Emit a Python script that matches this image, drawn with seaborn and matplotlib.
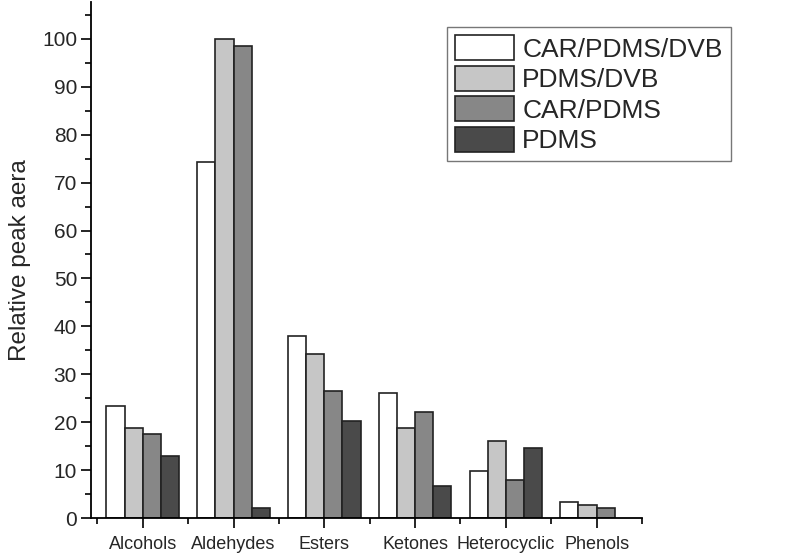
import pandas as pd
import seaborn as sns
import matplotlib.pyplot as plt
from matplotlib.ticker import MultipleLocator, FixedLocator

# values
categories = ['Alcohols', 'Aldehydes', 'Esters', 'Ketones', 'Heterocyclic', 'Phenols']
fibres = ['CAR/PDMS/DVB', 'PDMS/DVB', 'CAR/PDMS', 'PDMS']
car_pdms_dvb = [23.3, 74.4, 38.0, 26.1, 9.8, 3.3]
pdms_dvb = [18.8, 100.0, 34.2, 18.7, 16.0, 2.8]
car_pdms = [17.5, 98.5, 26.5, 22.2, 8.0, 2.1]
pdms = [13.0, 2.0, 20.2, 6.7, 14.6, None]  # no PDMS bar for phenols

colors = ['#ffffff', '#c6c6c6', '#878787', '#4a4a4a']

rows = []
for fibre, vals in zip(fibres, [car_pdms_dvb, pdms_dvb, car_pdms, pdms]):
    for cat, v in zip(categories, vals):
        if v is not None:
            rows.append({'class': cat, 'fibre': fibre, 'area': v})
df = pd.DataFrame(rows)

sns.set_style('ticks')
plt.rcParams['font.family'] = ['Liberation Sans', 'DejaVu Sans']

fig = plt.figure(figsize=(7.88, 5.58), dpi=100)
ax = fig.add_axes([91 / 788, 40 / 558, 551 / 788, 516 / 558])

sns.barplot(data=df, x='class', y='area', hue='fibre', order=categories,
            hue_order=fibres, palette=colors, edgecolor='#222222',
            linewidth=1.2, width=0.8, errorbar=None, ax=ax)

ax.set_xlim(-0.57, 5.5)
ax.set_ylim(0, 107.7)

# axis look: only left and bottom spines, ticks pointing out
for s in ['top', 'right']:
    ax.spines[s].set_visible(False)
for s in ['left', 'bottom']:
    ax.spines[s].set_linewidth(1.3)
    ax.spines[s].set_color('black')

ax.yaxis.set_major_locator(MultipleLocator(10))
ax.yaxis.set_minor_locator(MultipleLocator(5))
ax.xaxis.set_minor_locator(FixedLocator([i + 0.5 for i in range(-1, 6)]))
ax.tick_params(axis='both', which='major', direction='out', length=7, width=1.2, color='black')
ax.tick_params(axis='both', which='minor', direction='out', length=4, width=1.2, color='black')
ax.tick_params(axis='x', labelsize=13, pad=6)
ax.tick_params(axis='y', labelsize=15, pad=3)

ax.set_xlabel('')
ax.set_ylabel('Relative peak aera', fontsize=17.5, labelpad=8)

leg = ax.legend(loc='upper left', bbox_to_anchor=(447 / 788, 1 - 27 / 558),
                bbox_transform=fig.transFigure, fontsize=19, frameon=True,
                fancybox=False, handlelength=2.25, handleheight=1.1,
                handletextpad=0.3, labelspacing=0.15, borderpad=0.3,
                borderaxespad=0)
leg.get_frame().set_edgecolor('#555555')
leg.get_frame().set_linewidth(1.0)
for h in leg.legend_handles:
    h.set_edgecolor('#222222')
    h.set_linewidth(1.2)

fig.savefig('out.png', dpi=100)
